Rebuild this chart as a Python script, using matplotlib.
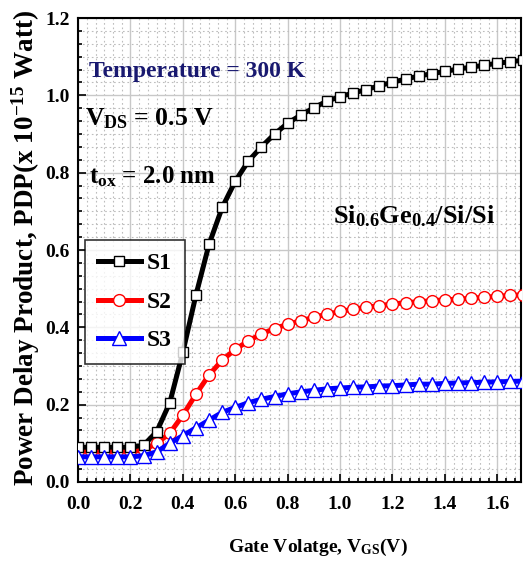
import numpy as np
import matplotlib
matplotlib.use("Agg")
import matplotlib.pyplot as plt
from matplotlib.ticker import AutoMinorLocator

plt.rcParams['font.family'] = ['Liberation Serif', 'DejaVu Serif']
plt.rcParams['font.weight'] = 'bold'
plt.rcParams['mathtext.fontset'] = 'custom'
plt.rcParams['mathtext.rm'] = 'Liberation Serif:bold'
plt.rcParams['mathtext.it'] = 'Liberation Serif:bold'
plt.rcParams['mathtext.bf'] = 'Liberation Serif:bold'

# Gate voltage sweep (V)
vgs = [0.00, 0.05, 0.10, 0.15, 0.20, 0.25, 0.30, 0.35, 0.40, 0.45,
       0.50, 0.55, 0.60, 0.65, 0.70, 0.75, 0.80, 0.85, 0.90, 0.95,
       1.00, 1.05, 1.10, 1.15, 1.20, 1.25, 1.30, 1.35, 1.40, 1.45,
       1.50, 1.55, 1.60, 1.65, 1.70]

# Power delay product (x 1e-15 W)
pdp_s1 = [0.090, 0.090, 0.090, 0.090, 0.090, 0.095, 0.130, 0.205, 0.336, 0.484,
          0.615, 0.710, 0.778, 0.830, 0.867, 0.900, 0.928, 0.949, 0.968, 0.985,
          0.997, 1.006, 1.015, 1.025, 1.034, 1.042, 1.050, 1.056, 1.062, 1.068,
          1.073, 1.078, 1.083, 1.087, 1.091]
pdp_s2 = [0.080, 0.080, 0.080, 0.080, 0.080, 0.082, 0.100, 0.126, 0.173, 0.227,
          0.277, 0.315, 0.343, 0.365, 0.383, 0.397, 0.408, 0.417, 0.426, 0.434,
          0.441, 0.447, 0.452, 0.456, 0.460, 0.464, 0.466, 0.469, 0.471, 0.473,
          0.475, 0.478, 0.480, 0.483, 0.484]
pdp_s3 = [0.065, 0.065, 0.065, 0.065, 0.065, 0.068, 0.078, 0.100, 0.120, 0.140,
          0.160, 0.180, 0.193, 0.205, 0.214, 0.221, 0.228, 0.233, 0.237, 0.241,
          0.243, 0.245, 0.246, 0.248, 0.249, 0.251, 0.253, 0.253, 0.255, 0.256,
          0.257, 0.258, 0.259, 0.260, 0.261]

series_labels = ['S1', 'S2', 'S3']
x_ticks = [0.0, 0.2, 0.4, 0.6, 0.8, 1.0, 1.2, 1.4, 1.6]
y_ticks = [0.0, 0.2, 0.4, 0.6, 0.8, 1.0, 1.2]

fig = plt.figure(figsize=(5.24, 5.64), dpi=100)
ax = fig.add_axes([0.149, 0.1454, 0.845, 0.8226])

ax.plot(vgs, pdp_s1, color='black', lw=3.6, marker='s', ms=7, mfc='white',
        mec='black', mew=1.0, label=series_labels[0], zorder=5)
ax.plot(vgs, pdp_s2, color='red', lw=3.6, marker='o', ms=8.5, mfc='white',
        mec='red', mew=1.0, label=series_labels[1], zorder=4)
ax.plot(vgs, pdp_s3, color='blue', lw=3.6, marker='^', ms=9.5, mfc='white',
        mec='blue', mew=1.0, label=series_labels[2], zorder=6)

ax.set_xlim(0, 1.69)
ax.set_ylim(0, 1.2)
ax.set_xticks(x_ticks)
ax.set_yticks(y_ticks)
ax.set_xticklabels([f'{t:.1f}' for t in x_ticks])
ax.set_yticklabels([f'{t:.1f}' for t in y_ticks])
ax.xaxis.set_minor_locator(AutoMinorLocator(6))
ax.yaxis.set_minor_locator(AutoMinorLocator(6))

ax.grid(True, which='major', color='#c8c8c8', lw=1.0, ls='-', zorder=0)
ax.grid(True, which='minor', color='#bdbdbd', lw=0.8, ls=(0, (1.5, 2.5)), zorder=0)
ax.set_axisbelow(True)

ax.tick_params(which='both', direction='in', top=False, right=False,
               labelsize=14, width=1.2)
ax.tick_params(which='major', length=6)
ax.tick_params(which='minor', length=3)
ax.tick_params(axis='x', pad=10)
ax.tick_params(axis='y', pad=6)
for lab in ax.get_xticklabels() + ax.get_yticklabels():
    lab.set_fontweight('bold')
for sp in ax.spines.values():
    sp.set_linewidth(1.5)

ax.set_xlabel(r'Gate Volatge, V$_{\mathrm{GS}}$(V)', fontsize=14, fontweight='bold')
ax.xaxis.set_label_coords(0.542, -0.118)
ax.set_ylabel(r'Power Delay Product, PDP(x 10$^{\mathrm{-15}}$ Watt)',
              fontsize=19.5, fontweight='bold')
ax.yaxis.set_label_coords(-0.082, 0.505)

ax.text(0.024, 0.884, 'Temperature = 300 K', transform=ax.transAxes,
        color='#191970', fontsize=17, fontweight='bold', va='center')
ax.text(0.016, 0.783, r'V$_{\mathrm{DS}}$ = 0.5 V', transform=ax.transAxes,
        color='black', fontsize=18.5, fontweight='bold', va='center')
ax.text(0.024, 0.658, r't$_{\mathrm{ox}}$ = 2.0 nm', transform=ax.transAxes,
        color='black', fontsize=18, fontweight='bold', va='center')
ax.text(0.575, 0.573, r'Si$_{\mathrm{0.6}}$Ge$_{\mathrm{0.4}}$/Si/Si',
        transform=ax.transAxes, color='black', fontsize=19,
        fontweight='bold', va='center')

leg = ax.legend(loc='upper left', bbox_to_anchor=(0.016, 0.522),
                prop={'family': 'Liberation Serif', 'weight': 'bold', 'size': 17},
                frameon=True, fancybox=False, edgecolor='black',
                handlelength=1.8, handletextpad=0.25, labelspacing=0.72,
                borderpad=0.55, borderaxespad=0)
leg.get_frame().set_linewidth(1.2)
leg.set_zorder(10)

fig.savefig('out.png', dpi=100)
